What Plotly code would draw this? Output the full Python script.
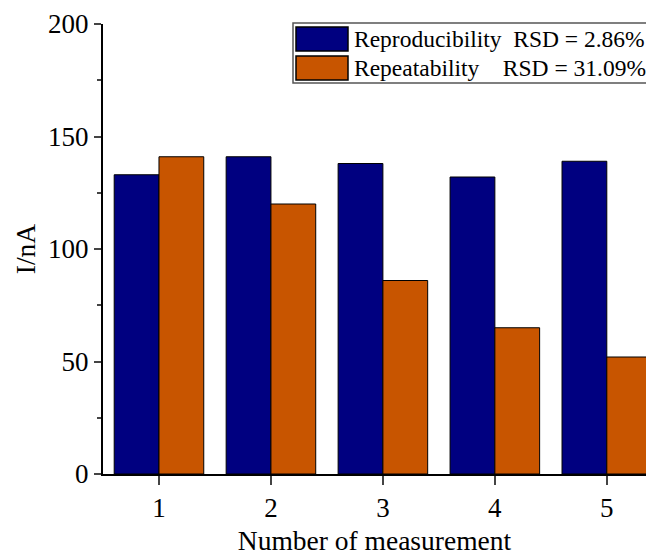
import plotly.graph_objects as go

measurements = [1, 2, 3, 4, 5]
reproducibility = [133, 141, 138, 132, 139]
repeatability = [141, 120, 86, 65, 52]
series_names = ["Reproducibility  RSD = 2.86%", "Repeatability    RSD = 31.09%"]
colors = ["#000080", "#C85500"]

FONT = "Liberation Serif"

fig = go.Figure()
for name, vals, col in zip(series_names, [reproducibility, repeatability], colors):
    fig.add_trace(go.Bar(x=measurements, y=vals, name=name, marker=dict(color=col, line=dict(color="black", width=1)), showlegend=False))

fig.update_layout(
    width=646, height=556,
    margin=dict(l=103, r=0, t=24, b=82),
    barmode="group", bargap=0.2, bargroupgap=0,
    plot_bgcolor="white", paper_bgcolor="white",
    font=dict(family=FONT, size=27, color="black"),
)
fig.update_xaxes(range=[0.5, 5.35], tickvals=measurements, ticks="outside", ticklen=9, tickwidth=2,
                 showline=True, linecolor="black", linewidth=2, showgrid=False, zeroline=False,
                 title=dict(text="Number of measurement", standoff=9, font=dict(family=FONT, size=27.5)),
                 tickfont=dict(family=FONT, size=27))
fig.update_yaxes(range=[0, 200], dtick=50, ticks="outside", ticklen=7, tickwidth=2,
                 minor=dict(ticks="outside", ticklen=4, dtick=25, tickwidth=1.5),
                 showline=True, linecolor="black", linewidth=2, showgrid=False, zeroline=False,
                 title=dict(text="I/nA", standoff=4, font=dict(family=FONT, size=27.5)),
                 tickfont=dict(family=FONT, size=27))

# custom legend
W, H = 646, 556
pw, ph = W - 103, H - 24 - 82
def px(x):
    return (x - 103) / pw
def py(y):
    return 1 - (y - 24) / ph

fig.add_shape(type="rect", xref="paper", yref="paper", x0=px(293), x1=px(650), y0=py(83), y1=py(23),
              line=dict(color="#555555", width=1.5), fillcolor="white", layer="above")
for i, (name, col) in enumerate(zip(series_names, colors)):
    top = 27 + i * 29
    fig.add_shape(type="rect", xref="paper", yref="paper", x0=px(296), x1=px(348), y0=py(top + 24), y1=py(top),
                  line=dict(color="black", width=1.5), fillcolor=col, layer="above")
    fig.add_annotation(xref="paper", yref="paper", x=px(352), y=py(top + 12), text=name.replace("  ", "&nbsp;&nbsp;"),
                       showarrow=False, xanchor="left", yanchor="middle", font=dict(size=23.5, family=FONT))

fig.write_html("out.html")
